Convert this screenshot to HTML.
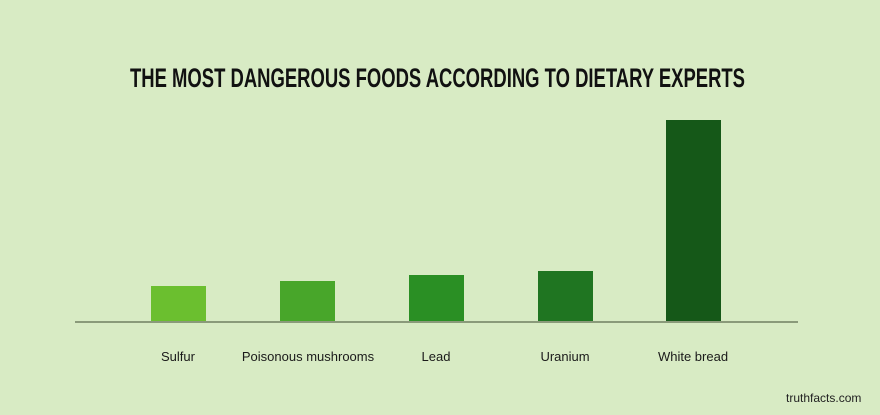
<!DOCTYPE html>
<html><head><style>
body{margin:0;width:880px;height:415px;background:#d8ebc4;position:relative;overflow:hidden;font-family:"Liberation Sans",sans-serif}
.t{position:absolute;left:130px;top:63px;width:615px;height:30px;}
.t span{display:inline-block;font-weight:bold;font-size:27px;white-space:nowrap;transform-origin:0 0;color:#111;font-family:"Liberation Sans Narrow","Liberation Sans",sans-serif;letter-spacing:0px}
.b{position:absolute;width:55px;bottom:93px}
.l{position:absolute;top:349px;font-size:13px;color:#1a1a1a;text-align:center;width:200px}
.ax{position:absolute;left:75px;width:723px;top:321px;height:2px;background:#8a9a7a}
</style></head><body>
<div class="t"><span id="tt">THE MOST DANGEROUS FOODS ACCORDING TO DIETARY EXPERTS</span></div>
<div class="b" style="left:151px;top:286px;background:#6bbf2f"></div>
<div class="b" style="left:280px;top:281px;background:#48a62a"></div>
<div class="b" style="left:409px;top:275px;background:#2a8f24"></div>
<div class="b" style="left:538px;top:271px;background:#1f7521"></div>
<div class="b" style="left:666px;top:120px;background:#155818"></div>
<div class="ax"></div>
<div class="l" style="left:78px">Sulfur</div>
<div class="l" style="left:208px">Poisonous mushrooms</div>
<div class="l" style="left:336px">Lead</div>
<div class="l" style="left:465px">Uranium</div>
<div class="l" style="left:593px">White bread</div>
<div style="position:absolute;left:786px;top:391px;font-size:12px;color:#222">truthfacts.com</div>
<script>
var s=document.getElementById('tt');var w=s.getBoundingClientRect().width;s.style.transform='scaleX('+(615/w)+')';
</script>
</body></html>
